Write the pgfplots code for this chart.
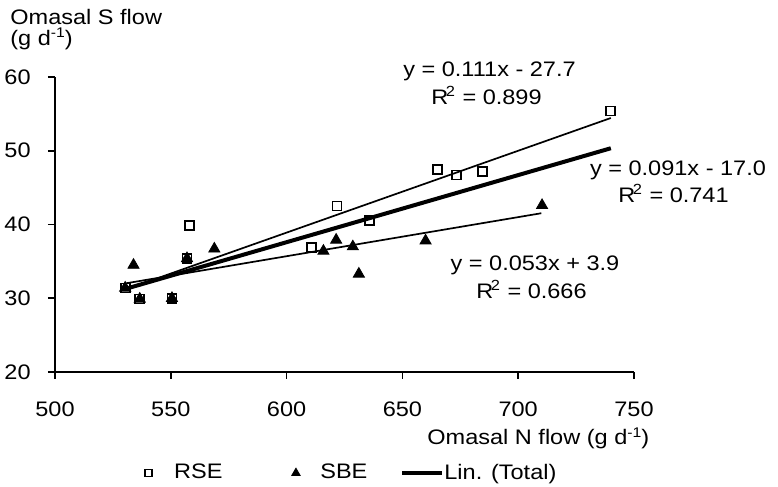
\documentclass[border=0pt]{standalone}
\usepackage{fontspec}
\setmainfont{Liberation Sans}[FakeStretch=1.12]
\usepackage{pgfplots}
\pgfplotsset{compat=1.18}
\newcommand{\sups}[1]{\raisebox{0.36em}{\fontsize{7}{8}\selectfont #1}}
\begin{document}
\fontsize{10.5}{12.6}\selectfont
\begin{tikzpicture}[x=1pt,y=1pt]
\useasboundingbox (0,0) rectangle (389,243.5);
\begin{axis}[
  at={(27.5pt,57.5pt)}, anchor=south west,
  scale only axis, width=289.5pt, height=147.5pt,
  xmin=500, xmax=750, ymin=20, ymax=60,
  xtick={500,550,600,650,700,750}, ytick={20,30,40,50,60},
  axis x line*=bottom, axis y line*=left,
  axis line style={line width=0.8pt},
  tick align=outside, major tick length=3.5pt,
  tick style={line width=0.8pt, black},
  /pgf/number format/assume math mode=true,
  tick label style={font=\fontsize{10.5}{12.6}\selectfont},
  xticklabel style={anchor=center, inner sep=0pt, yshift=-15pt},
  yticklabel style={anchor=east, inner sep=0pt, xshift=-8.5pt},
  clip=false,
  legend cell align=left,
  legend columns=3,
  legend style={at={(0.1537,-0.3424)}, anchor=west, draw=none, fill=none,
    inner sep=0pt, nodes={inner sep=0pt, font=\fontsize{10.5}{12.6}\selectfont},
    /tikz/column 2/.style={column sep=34.3pt},
    /tikz/column 4/.style={column sep=16.5pt}},
]
\addplot[only marks, mark=square, mark size=2.25pt,
  mark options={line width=0.9pt, draw=black, fill=white},
  legend image code/.code={\draw[black, only marks, mark=square, mark size=1.75pt, mark options={line width=0.9pt, fill=white}] plot coordinates {(0pt,0pt)}; \path (-2pt,0pt) (12.5pt,0pt);}]
  table {
x y
530.3 31.4
536.6 29.9
550.5 30.0
557.0 35.4
558.0 39.9
610.6 36.9
621.8 42.5
635.8 40.5
665.0 47.5
673.3 46.7
684.5 47.2
740.0 55.4
};
\addplot[only marks, mark=triangle*, mark size=3.2pt,
  mark options={draw=black, fill=black},
  legend image code/.code={\draw[black, only marks, mark=triangle*, mark size=2.4pt, mark options={fill=black}] plot coordinates {(0pt,0pt)}; \path (-2.2pt,0pt) (12pt,0pt);}]
  table {
x y
530.3 31.4
533.9 34.5
536.6 29.9
550.5 30.0
557.0 35.4
568.8 36.7
615.9 36.4
621.4 37.9
628.6 37.0
631.2 33.3
660.0 37.8
710.3 42.6
};
\addplot[black, line width=0.85pt, forget plot] coordinates {(530,31.13) (740,54.44)};
\addplot[black, line width=0.85pt, forget plot] coordinates {(530,31.99) (710,41.53)};
\addplot[black, line width=2pt,
  legend image code/.code={\draw[black, line width=2pt] (0pt,0pt) -- (20pt,0pt);}]
  coordinates {(530,31.23) (740,50.34)};
\legend{RSE, SBE, Lin. (Total)}
\end{axis}
\node[anchor=base west, inner sep=0pt] at (5,231) {Omasal S flow};
\node[anchor=base west, inner sep=0pt] at (5,220.8) {(g d\sups{-1})};
\node[anchor=base west, inner sep=0pt] at (213.5,21) {Omasal N flow (g d\sups{-1})};
\node[anchor=base, inner sep=0pt] at (244.75,205.2) {y = 0.111x - 27.7};
\node[anchor=base, inner sep=0pt] at (243.25,191.35) {R\kern-0.12em\textsuperscript{2} = 0.899};
\node[anchor=base, inner sep=0pt] at (339,155.5) {y = 0.091x - 17.0};
\node[anchor=base, inner sep=0pt] at (336.75,142.2) {R\kern-0.12em\textsuperscript{2} = 0.741};
\node[anchor=base, inner sep=0pt] at (267.5,108) {y = 0.053x + 3.9};
\node[anchor=base, inner sep=0pt] at (265.75,94.3) {R\kern-0.12em\textsuperscript{2} = 0.666};
\end{tikzpicture}
\end{document}
